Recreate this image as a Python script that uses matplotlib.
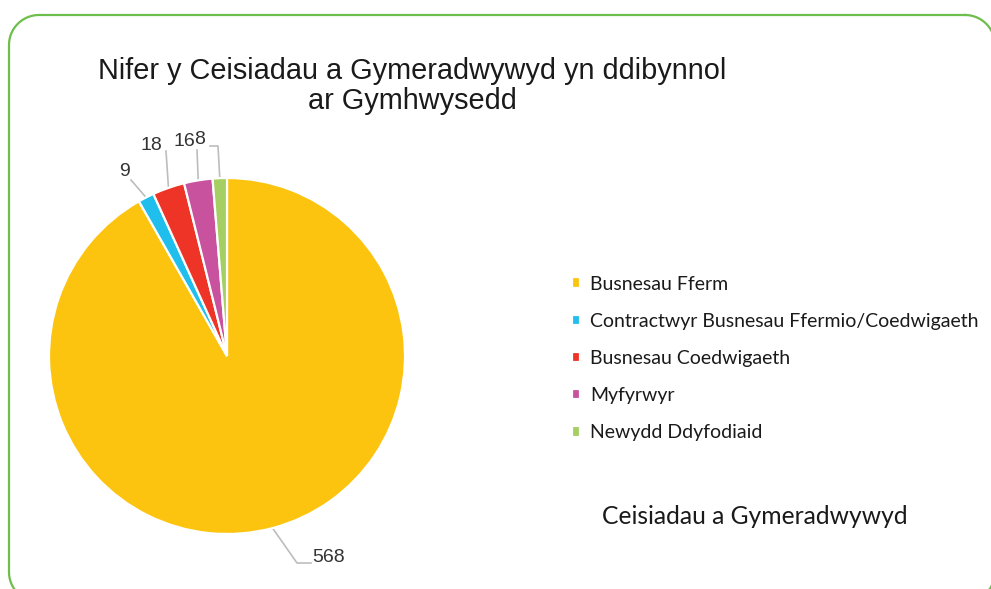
import numpy as np
import matplotlib
matplotlib.use("Agg")
import matplotlib.pyplot as plt

categories = ["Busnesau Fferm", "Contractwyr Busnesau Ffermio/Coedwigaeth",
              "Busnesau Coedwigaeth", "Myfyrwyr", "Newydd Ddyfodiaid"]
values = [568, 9, 18, 16, 8]
colors = ["#FCC40F", "#1FBEEC", "#EE3327", "#C9529F", "#A5CF62"]
title = "Nifer y Ceisiadau a Gymeradwywyd yn ddibynnol\nar Gymhwysedd"
subtitle = "Ceisiadau a Gymeradwywyd"

W, H = 991, 589
fig = plt.figure(figsize=(W / 100, H / 100), dpi=100)
ax = fig.add_axes([0, 0, 1, 1])

def py(y):
    return H - y

cx, cy, r = 227, py(356), 178
wedges, _ = ax.pie(values, colors=colors, startangle=90, counterclock=False,
                   center=(cx, cy), radius=r, frame=True,
                   wedgeprops=dict(edgecolor="white", linewidth=1.6))
ax.set_xlim(0, W)
ax.set_ylim(0, H)
ax.set_aspect("equal")
ax.axis("off")

# rounded green frame (drawn as a path in pixel coordinates)
L, T, R, B, rc = 9, 15, 995, 602, 30
def arc(xc, yc, a0, a1):
    t = np.deg2rad(np.linspace(a0, a1, 30))
    return list(xc + rc * np.cos(t)), list(yc - rc * np.sin(t))
fx, fy = [], []
for seg in [arc(R - rc, T + rc, 90, 0), arc(R - rc, B - rc, 0, -90),
            arc(L + rc, B - rc, -90, -180), arc(L + rc, T + rc, 180, 90)]:
    fx += seg[0]
    fy += seg[1]
fx.append(fx[0]); fy.append(fy[0])
ax.plot(fx, [py(v) for v in fy], color="#6DBE4B", lw=1.6, zorder=0.2)

# leader lines: (elbow points in px, label pos px)
leaders = [
    ([(297, 563), (311, 563)], (329, 557)),
    ([(131, 180)], (124, 172)),
    ([(166, 151)], (151, 145)),
    ([(197, 150)], (184, 142)),
    ([(218, 146), (210, 146)], (200, 140)),
]
for w, v, (pts, lab) in zip(wedges, values, leaders):
    th = np.deg2rad((w.theta1 + w.theta2) / 2)
    ax0 = cx + r * np.cos(th)
    ay0 = cy + r * np.sin(th)
    xs = [ax0] + [p[0] for p in pts]
    ys = [ay0] + [py(p[1]) for p in pts]
    ax.plot(xs, ys, color="#BDBDBD", lw=1.2, zorder=0.5)
    ax.text(lab[0], py(lab[1]), str(v), ha="center", va="center",
            fontsize=14, family="Liberation Sans", color="#333333")

ax.text(412, py(86), title, ha="center", va="center", fontsize=20.8,
        family="Liberation Sans", color="#1a1a1a", linespacing=1.1)

leg = ax.legend(wedges, categories, loc="upper left",
                bbox_to_anchor=(554 / W, 1 - 258 / H), frameon=False,
                handlelength=0.45, handleheight=0.45, handletextpad=0.5,
                labelspacing=1.04,
                prop=dict(family="Lato", size=14))
for t in leg.get_texts():
    t.set_color("#1a1a1a")

ax.text(755, py(517), subtitle, ha="center", va="center", fontsize=17.7,
        family="Lato", color="#1a1a1a")

fig.savefig("out.png", dpi=100)
